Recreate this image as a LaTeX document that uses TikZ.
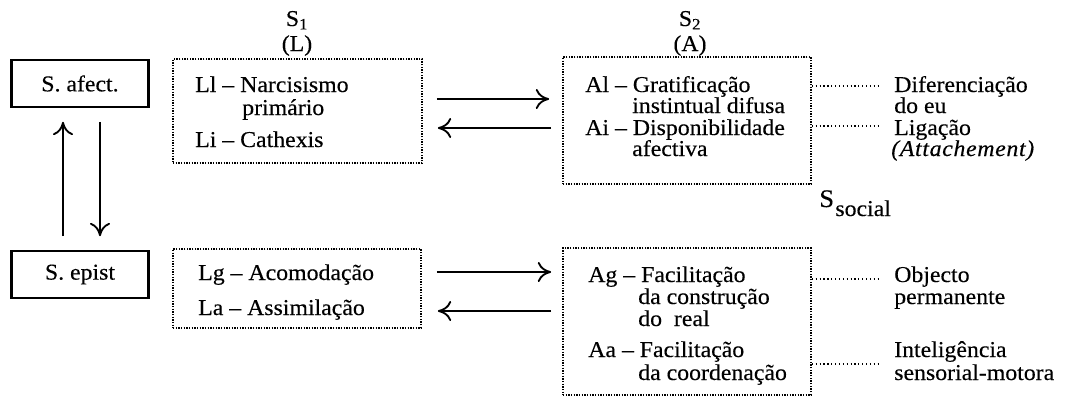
\documentclass[tikz,border=0pt]{standalone}
\usepackage{fontspec}
\setmainfont{Liberation Serif}[FakeStretch=1.05,FakeBold=0.3]
\usetikzlibrary{arrows.meta,calc}
\begin{document}
\begin{tikzpicture}[x=0.75pt,y=-0.75pt,
  txt/.style={anchor=base west, inner sep=0pt, font=\fontsize{17}{17}\selectfont},
  ctxt/.style={anchor=base, inner sep=0pt, font=\fontsize{17}{17}\selectfont},
  solidbox/.style={draw, line width=1.2pt, inner sep=0pt, minimum width=102pt, minimum height=35.25pt, font=\fontsize{17}{17}\selectfont},
  dotbox/.style={draw, line width=1.3pt, dash pattern=on 0.9pt off 1.1pt, inner sep=0pt},
  dotline/.style={line width=1pt, dash pattern=on 0.9pt off 2pt},
  arr/.style={line width=1.4pt, -{Computer Modern Rightarrow[width=15pt,length=10pt,line width=1.4pt]}},
]
\useasboundingbox (0,0) rectangle (1070,397);

% solid boxes
\node[solidbox] (afect) at (80,83.5) {S. afect.};
\node[solidbox] (epist) at (80,274.5) {S. epist};
\foreach \b in {afect,epist}{
  \draw[line width=2.2pt] (\b.north west) -- (\b.south west);
  \draw[line width=2.2pt] (\b.north east) -- (\b.south east);
}
\draw[arr] ($(epist.north)+(-17,-14)$) -- ($(afect.south)+(-17,14)$);
\draw[arr] ($(afect.south)+(20,14)$) -- ($(epist.north)+(20,-14)$);

% dotted boxes
\node[dotbox, minimum width=186.75pt, minimum height=78pt] (Ltop) at (297.5,111) {};
\node[dotbox, minimum width=186pt, minimum height=59.25pt] (Lbot) at (297,288.5) {};
\node[dotbox, minimum width=186pt, minimum height=95.25pt] (Atop) at (687,120.5) {};
\node[dotbox, minimum width=186pt, minimum height=110.25pt] (Abot) at (687,321.5) {};

% headings
\node[ctxt] (s1) at (297,26) {S\textsubscript{1}};
\node[ctxt] (s1L) at (297,51) {(L)};
\node[ctxt] (s2) at (690,26) {S\textsubscript{2}};
\node[ctxt] (s2A) at (690,51) {(A)};
\node[txt] (ssoc) at (819,207) {\fontsize{19}{19}\selectfont S\hspace{1pt}\raisebox{-6.75pt}{\fontsize{17}{17}\selectfont social}};

% horizontal arrows
\coordinate (h1) at (0,99);
\coordinate (h2) at (0,128);
\coordinate (h3) at (0,272);
\coordinate (h4) at (0,311);
\draw[arr, shorten <=10.5pt, shorten >=9.75pt] (Ltop.east |- h1) -- (Atop.west |- h1);
\draw[arr, shorten <=8.25pt, shorten >=11.25pt] (Atop.west |- h2) -- (Ltop.east |- h2);
\draw[arr, shorten <=11.25pt, shorten >=8.25pt] (Lbot.east |- h3) -- (Abot.west |- h3);
\draw[arr, shorten <=8.25pt, shorten >=12pt] (Abot.west |- h4) -- (Lbot.east |- h4);

% L top texts
\node[txt] (ll) at (195,92) {Ll – Narcisismo};
\node[txt] (ll2) at (242,115) {primário};
\node[txt] (li) at (195,147) {Li – Cathexis};

% L bottom texts
\node[txt] (lg) at (198,280) {Lg – Acomodação};
\node[txt] (la) at (198,315) {La – Assimilação};

% A top texts
\node[txt] (al) at (585,92) {Al – Gratificação};
\node[txt] (al2) at (632,113) {instintual difusa};
\node[txt] (ai) at (585,135) {Ai – Disponibilidade};
\node[txt] (ai2) at (632,156) {afectiva};

% A bottom texts
\node[txt] (ag) at (588,282) {Ag – Facilitação};
\node[txt] (ag2) at (638,304) {da construção};
\node[txt] (ag3) at (638,326) {do\ \ real};
\node[txt] (aa) at (588,357) {Aa – Facilitação};
\node[txt] (aa2) at (638,380) {da coordenação};

% right texts
\node[txt] (dif) at (894,92) {Diferenciação};
\node[txt] (dif2) at (894,113) {do eu};
\node[txt] (lig) at (894,135) {Ligação};
\node[txt] (lig2) at (891,156) {\addfontfeatures{LetterSpace=3}\itshape (Attachement)};
\node[txt] (obj) at (894,282) {Objecto};
\node[txt] (obj2) at (894,304) {permanente};
\node[txt] (int) at (894,357) {Inteligência};
\node[txt] (int2) at (894,380) {sensorial-motora};

% dotted connectors
\coordinate (d1) at (0,86);
\coordinate (d2) at (0,126);
\coordinate (d3) at (0,279);
\coordinate (d4) at (0,364);
\draw[dotline, shorten >=11.25pt] (Atop.east |- d1) -- (dif.west |- d1);
\draw[dotline, shorten >=11.25pt] (Atop.east |- d2) -- (lig.west |- d2);
\draw[dotline, shorten >=11.25pt] (Abot.east |- d3) -- (obj.west |- d3);
\draw[dotline, shorten >=11.25pt] (Abot.east |- d4) -- (int.west |- d4);
\end{tikzpicture}
\end{document}
